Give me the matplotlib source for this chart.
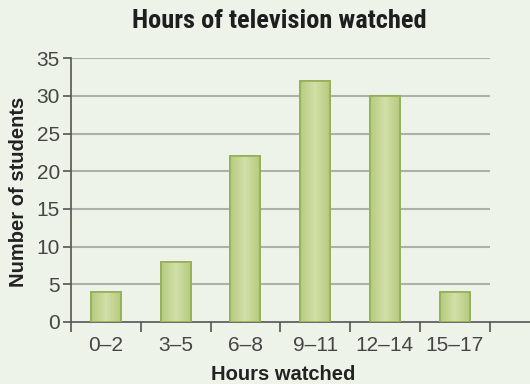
import numpy as np
import matplotlib
matplotlib.use('Agg')
import matplotlib.pyplot as plt
from matplotlib.ticker import FixedLocator

categories = ['0\u20132', '3\u20135', '6\u20138', '9\u201311', '12\u201314', '15\u201317']
students = [4, 8, 22, 32, 30, 4]
yticks = [0, 5, 10, 15, 20, 25, 30, 35]

bg = '#eef3ea'
plt.rcParams['font.family'] = ['Liberation Sans', 'DejaVu Sans']

fig = plt.figure(figsize=(5.3, 3.84), dpi=100, facecolor=bg)
ax = fig.add_axes([0.134, 0.1615, 0.866, 0.687], facecolor=bg)

x = np.arange(len(categories))
ax.set_xlim(-0.5, 6.08)
ax.set_ylim(0, 35)

# grid lines, only over the category area
ax.hlines(yticks[1:], -0.5, len(categories) - 0.5, color='#adb1aa', lw=1.5, zorder=1)

bars = ax.bar(x, students, width=0.43, color='#c6d694', edgecolor='#93b055', lw=1.2, zorder=3)

# soft horizontal gradient inside each bar
grad = np.abs(np.linspace(-1, 1, 64))[None, :]
cmap = matplotlib.colors.LinearSegmentedColormap.from_list('g', ['#d2dfa8', '#b6ca7e'])
for b in bars:
    x0, w, h = b.get_x(), b.get_width(), b.get_height()
    im = ax.imshow(grad, extent=[x0, x0 + w, 0, h], aspect='auto', cmap=cmap, zorder=3.5)
    im.set_clip_path(b)
    ax.bar(x0 + w / 2, h, width=w, fill=False, edgecolor='#93b055', lw=1.2, zorder=4)

for s in ['top', 'right']:
    ax.spines[s].set_visible(False)
ax.spines['left'].set_color('#555555')
ax.spines['bottom'].set_color('#555555')
ax.spines['left'].set_linewidth(1.2)
ax.spines['bottom'].set_linewidth(1.2)

ax.set_yticks(yticks)
ax.tick_params(axis='y', length=6, width=1.2, color='#555555', labelsize=15, labelcolor='#454545', pad=2)

ax.xaxis.set_major_locator(FixedLocator(np.arange(-0.5, len(categories), 1.0)))
ax.xaxis.set_major_formatter(plt.NullFormatter())
ax.xaxis.set_minor_locator(FixedLocator(x))
ax.set_xticklabels(categories, minor=True)
ax.tick_params(axis='x', which='major', length=7, width=1.2, color='#555555')
ax.tick_params(axis='x', which='minor', length=0, labelsize=15, labelcolor='#454545', pad=10)

ax.set_ylabel('Number of students', fontsize=14.5, fontweight='bold', color='#222222')
ax.yaxis.set_label_coords((18 - 71) / 459, (322 - 192) / 264)
ax.set_xlabel('Hours watched', fontsize=14.5, fontweight='bold', color='#222222')
ax.xaxis.set_label_coords((283 - 71) / 459, -(375 - 322) / 264)
ax.xaxis.label.set_va('center')
ax.yaxis.label.set_va('center')

fig.text(279 / 530, 1 - 21 / 384, 'Hours of television watched', ha='center', va='center',
         fontsize=19, fontweight='bold', color='#1e1e1e',
         family=['Roboto Condensed', 'Roboto', 'DejaVu Sans'])

fig.savefig('out.png', dpi=100, facecolor=bg)
